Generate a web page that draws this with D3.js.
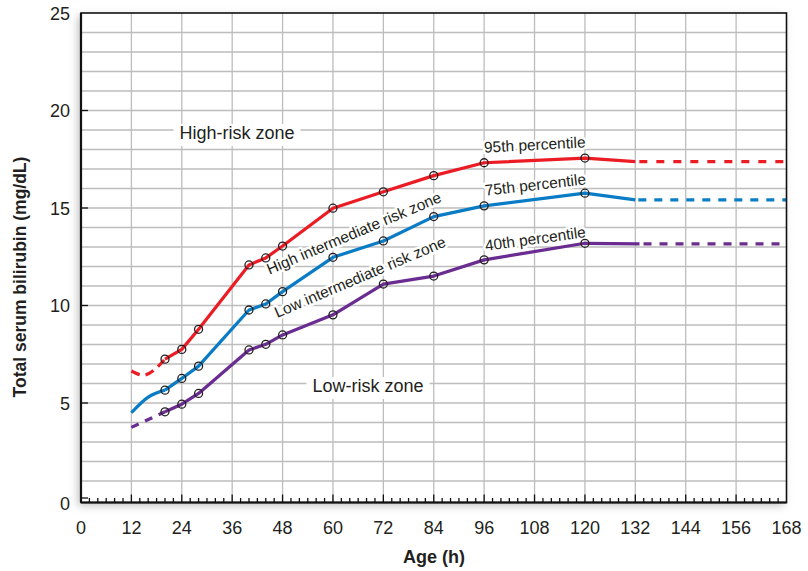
<!DOCTYPE html>
<html>
<head>
<meta charset="utf-8">
<script src="https://cdn.jsdelivr.net/npm/d3@7"></script>
<style>
  html, body { margin: 0; padding: 0; background: #fff; }
  svg { display: block; font-family: "Liberation Sans", Arial, sans-serif; }
</style>
</head>
<body>
<svg id="chart" width="808" height="571"></svg>
<script>
// ---- data ----
const xTickValues = [0, 12, 24, 36, 48, 60, 72, 84, 96, 108, 120, 132, 144, 156, 168];
const yTickValues = [0, 5, 10, 15, 20, 25];

// 95th percentile (red)
const p95StartHours = [12, 14.8, 20];
const p95StartValues = [6.64, 6.43, 7.25];
const p95Hours = [20, 24, 28, 40, 44, 48, 60, 72, 84, 96, 120, 132];
const p95Values = [7.25, 7.75, 8.78, 12.08, 12.44, 13.05, 14.99, 15.83, 16.66, 17.32, 17.56, 17.38];
const p95EndHours = [132, 168];
const p95EndValues = [17.38, 17.38];

// 75th percentile (blue)
const p75Hours = [12, 16, 20, 24, 28, 40, 44, 48, 60, 72, 84, 96, 120, 132];
const p75Values = [4.50, 5.30, 5.66, 6.26, 6.89, 9.77, 10.08, 10.71, 12.47, 13.31, 14.56, 15.11, 15.76, 15.42];
const p75EndHours = [132, 168];
const p75EndValues = [15.42, 15.42];

// 40th percentile (purple)
const p40StartHours = [12, 20];
const p40StartValues = [3.75, 4.55];
const p40Hours = [20, 24, 28, 40, 44, 48, 60, 72, 84, 96, 120, 133];
const p40Values = [4.55, 4.94, 5.49, 7.72, 8.01, 8.49, 9.52, 11.10, 11.51, 12.34, 13.19, 13.16];
const p40EndHours = [133, 168];
const p40EndValues = [13.16, 13.16];

// measured-point markers (hours)
const markerHours = [20, 24, 28, 40, 44, 48, 60, 72, 84, 96, 120];

const RED = "#ec1c24", BLUE = "#0a7cc5", PURPLE = "#6b2c91";

// ---- scales ----
const svg = d3.select("#chart");
const x = d3.scaleLinear().domain([0, 168]).range([81, 786.5]);
const y = d3.scaleLinear().domain([0, 25]).range([500.5, 13]);
const bottomY = 502.5;

const defs = svg.append("defs");
const f = defs.append("filter").attr("id", "shadow").attr("x", "-10%").attr("y", "-10%").attr("width", "120%").attr("height", "120%");
f.append("feDropShadow").attr("dx", -3).attr("dy", 3).attr("stdDeviation", 4).attr("flood-color", "#000").attr("flood-opacity", 0.25);

// plot background w/ shadow
svg.append("rect")
  .attr("x", x(0)).attr("y", y(25))
  .attr("width", x(168) - x(0)).attr("height", bottomY - y(25))
  .attr("fill", "#fff").attr("filter", "url(#shadow)");

// grid
const grid = svg.append("g").attr("stroke", "#bdbdbd").attr("stroke-width", 1.3);
grid.selectAll("line.v").data(d3.range(12, 168, 12)).join("line")
  .attr("x1", d => x(d)).attr("x2", d => x(d))
  .attr("y1", y(25)).attr("y2", bottomY);
grid.selectAll("line.h").data(d3.range(1, 25, 1)).join("line")
  .attr("x1", x(0)).attr("x2", x(168))
  .attr("y1", d => y(d)).attr("y2", d => y(d));

// zone labels with white boxes
function boxLabel(txt, cx, cy) {
  const t = svg.append("text").attr("x", cx).attr("y", cy)
    .attr("text-anchor", "middle").attr("font-size", 18).attr("fill", "#231f20").text(txt);
  const b = t.node().getBBox();
  svg.insert("rect", () => t.node())
    .attr("x", b.x - 6).attr("y", b.y + 1).attr("width", b.width + 12).attr("height", b.height + 2)
    .attr("fill", "#fff");
}
boxLabel("High-risk zone", 237, 139);
boxLabel("Low-risk zone", 368, 392);

// rotated labels with white halo
function haloLabel(txt, cx, cy, angle, size) {
  svg.append("text")
    .attr("transform", `translate(${cx},${cy}) rotate(${angle})`)
    .attr("text-anchor", "middle").attr("font-size", size)
    .attr("fill", "#231f20").attr("stroke", "#fff").attr("stroke-width", 5)
    .attr("paint-order", "stroke").attr("stroke-linejoin", "round")
    .text(txt);
}
haloLabel("High intermediate risk zone", 356, 238, -23, 15.5);
haloLabel("Low intermediate risk zone", 362, 282, -23, 15.5);
haloLabel("95th percentile", 535, 150, -3, 15.5);
haloLabel("75th percentile", 536, 190, -6.5, 15.5);
haloLabel("40th percentile", 536, 244, -7.8, 15.5);

// lines
const toPts = (hs, vs) => hs.map((h, i) => [h, vs[i]]);
const line = d3.line().x(d => x(d[0])).y(d => y(d[1]));
const curve = d3.line().x(d => x(d[0])).y(d => y(d[1])).curve(d3.curveMonotoneX);
const lines = svg.append("g").attr("fill", "none").attr("stroke-width", 3.2).attr("stroke-linejoin", "round");

lines.append("path").attr("d", curve(toPts(p95StartHours, p95StartValues))).attr("stroke", RED).attr("stroke-dasharray", "9,6");
lines.append("path").attr("d", line(toPts(p95Hours, p95Values))).attr("stroke", RED);
lines.append("path").attr("d", line(toPts(p95EndHours, p95EndValues))).attr("stroke", RED).attr("stroke-dasharray", "8,9").attr("stroke-dashoffset", -4);

lines.append("path").attr("d", curve(toPts(p75Hours.slice(0, 3), p75Values.slice(0, 3)))).attr("stroke", BLUE);
lines.append("path").attr("d", line(toPts(p75Hours.slice(2), p75Values.slice(2)))).attr("stroke", BLUE);
lines.append("path").attr("d", line(toPts(p75EndHours, p75EndValues))).attr("stroke", BLUE).attr("stroke-dasharray", "8,8").attr("stroke-dashoffset", -3);

lines.append("path").attr("d", line(toPts(p40StartHours, p40StartValues))).attr("stroke", PURPLE).attr("stroke-dasharray", "8,7");
lines.append("path").attr("d", line(toPts(p40Hours, p40Values))).attr("stroke", PURPLE);
lines.append("path").attr("d", line(toPts(p40EndHours, p40EndValues))).attr("stroke", PURPLE).attr("stroke-dasharray", "8,8").attr("stroke-dashoffset", -4);

// markers
const markers = svg.append("g").attr("fill", "none").attr("stroke", "#231f20").attr("stroke-width", 1.3);
[[p95Hours, p95Values], [p75Hours, p75Values], [p40Hours, p40Values]].forEach(([hs, vs]) => {
  const pts = toPts(hs, vs).filter(p => markerHours.includes(p[0]));
  markers.selectAll(null).data(pts).join("circle")
    .attr("cx", d => x(d[0])).attr("cy", d => y(d[1])).attr("r", 4);
});

// frame
svg.append("rect")
  .attr("x", x(0)).attr("y", y(25))
  .attr("width", x(168) - x(0)).attr("height", bottomY - y(25))
  .attr("fill", "none").attr("stroke", "#111").attr("stroke-width", 1.6);
svg.append("line").attr("x1", x(0)).attr("x2", x(0)).attr("y1", y(25)).attr("y2", bottomY)
  .attr("stroke", "#111").attr("stroke-width", 2.2);
svg.append("line").attr("x1", x(0)).attr("x2", x(168)).attr("y1", bottomY).attr("y2", bottomY)
  .attr("stroke", "#111").attr("stroke-width", 2.2);

// x ticks (inward)
const ticks = svg.append("g").attr("stroke", "#111").attr("stroke-width", 1.3);
ticks.selectAll("line.minor").data(d3.range(2, 168, 2)).join("line")
  .attr("x1", d => x(d)).attr("x2", d => x(d))
  .attr("y1", bottomY).attr("y2", d => bottomY - (d % 12 === 0 ? 8 : 4.5));
// y ticks (inward)
ticks.selectAll("line.y").data(yTickValues.slice(0, 5)).join("line")
  .attr("x1", x(0)).attr("x2", x(0) + 7)
  .attr("y1", d => y(d) - (d === 0 ? 2.5 : 0)).attr("y2", d => y(d) - (d === 0 ? 2.5 : 0));

// tick labels
svg.append("g").selectAll("text").data(xTickValues).join("text")
  .attr("x", d => x(d)).attr("y", 534)
  .attr("text-anchor", "middle").attr("font-size", 18).attr("fill", "#231f20")
  .text(d => d);
svg.append("g").selectAll("text").data(yTickValues).join("text")
  .attr("x", 70).attr("y", d => y(d) + 6.5 + (d === 0 ? 3 : 0))
  .attr("text-anchor", "end").attr("font-size", 18).attr("fill", "#231f20")
  .text(d => d);

// axis titles
svg.append("text").attr("x", 434).attr("y", 563)
  .attr("text-anchor", "middle").attr("font-size", 18).attr("font-weight", "bold").attr("fill", "#231f20")
  .text("Age (h)");
svg.append("text").attr("transform", "translate(26,277) rotate(-90)")
  .attr("text-anchor", "middle").attr("font-size", 17.5).attr("font-weight", "bold").attr("fill", "#231f20")
  .text("Total serum bilirubin (mg/dL)");
</script>
</body>
</html>
